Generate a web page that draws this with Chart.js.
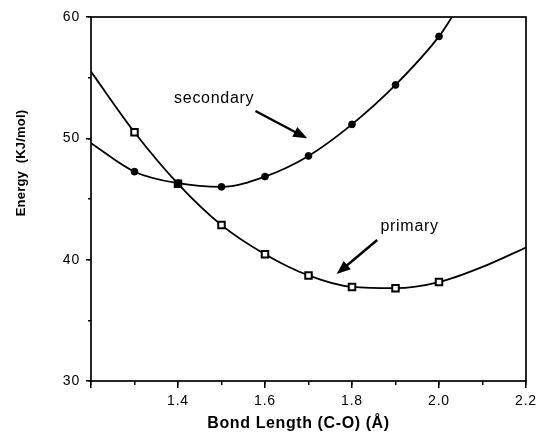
<!DOCTYPE html>
<html><head><meta charset="utf-8">
<script src="https://cdn.jsdelivr.net/npm/chart.js@4/dist/chart.umd.min.js"></script>
<style>html,body{margin:0;padding:0;background:#fff}</style>
</head><body>
<canvas id="c" width="538" height="433"></canvas>
<script>
// ---- data ----
const markerX = [1.3, 1.4, 1.5, 1.6, 1.7, 1.8, 1.9, 2.0];
const secondaryMarkers = [47.25, 46.3, 46.0, 46.85, 48.55, 51.15, 54.4, 58.4];
const primaryMarkers = [50.5, 46.25, 42.85, 40.45, 38.7, 37.75, 37.65, 38.15];

const secondaryCurveX = [1.2, 1.3, 1.4, 1.5, 1.6, 1.7, 1.8, 1.9, 2.0, 2.03];
const secondaryCurveY = [49.6, 47.25, 46.3, 46.0, 46.85, 48.55, 51.15, 54.4, 58.4, 60.0];
const primaryCurveX = [1.2, 1.3, 1.4, 1.5, 1.6, 1.7, 1.8, 1.9, 2.0, 2.1, 2.2];
const primaryCurveY = [55.5, 50.5, 46.25, 42.85, 40.45, 38.7, 37.75, 37.65, 38.15, 39.4, 41.0];

const xRange = [1.2, 2.2];
const yRange = [30, 60];
const xMajorStep = 0.2, xMinorStep = 0.1;
const yMajorStep = 10, yMinorStep = 5;
const hiddenXLabels = [1.2];

const xTitle = 'Bond Length (C-O) (Å)';
const yTitle = 'Energy  (KJ/mol)';
// annotations: [text, x, y(baseline)] and arrows [x1,y1,x2,y2] in data units
const labelSecondary = ['secondary', 1.391, 52.89];
const labelPrimary = ['primary', 1.8655, 42.36];
const arrowSecondary = [1.578, 52.25, 1.697, 50.0];
const arrowPrimary = [1.858, 41.62, 1.7645, 38.81];

// ---- helpers ----
const zip = (xs, ys) => xs.map((x, i) => ({x, y: ys[i]}));
const FAMILY = '"Liberation Sans", Arial, Helvetica, sans-serif';

const spacing = {
  id: 'spacing',
  beforeDraw(chart) { try { chart.ctx.letterSpacing = '0.8px'; } catch (e) {} }
};

const decor = {
  id: 'decor',
  afterDraw(chart) {
    const ctx = chart.ctx, a = chart.chartArea;
    const sx = chart.scales.x, sy = chart.scales.y;
    ctx.save();
    ctx.strokeStyle = '#000';
    ctx.lineWidth = 1.7;
    ctx.strokeRect(a.left, a.top, a.right - a.left, a.bottom - a.top);

    ctx.fillStyle = '#000';
    // x title
    ctx.font = 'bold 16px ' + FAMILY;
    try { ctx.letterSpacing = '0.6px'; } catch (e) {}
    ctx.textAlign = 'center';
    ctx.textBaseline = 'alphabetic';
    ctx.fillText(xTitle, 298.5, 428);
    // y title
    ctx.save();
    ctx.translate(21, 163);
    ctx.rotate(-Math.PI / 2);
    ctx.font = 'bold 13px ' + FAMILY;
    try { ctx.letterSpacing = '0.2px'; } catch (e) {}
    ctx.textBaseline = 'middle';
    ctx.fillText(yTitle, 0, 0);
    ctx.restore();

    // annotation labels
    ctx.font = '16px ' + FAMILY;
    try { ctx.letterSpacing = '0.7px'; } catch (e) {}
    ctx.textAlign = 'left';
    ctx.textBaseline = 'alphabetic';
    [labelSecondary, labelPrimary].forEach(([t, x, y]) => {
      ctx.fillText(t, sx.getPixelForValue(x), sy.getPixelForValue(y));
    });

    // arrows
    const arrow = ([x1, y1, x2, y2]) => {
      const p1 = [sx.getPixelForValue(x1), sy.getPixelForValue(y1)];
      const p2 = [sx.getPixelForValue(x2), sy.getPixelForValue(y2)];
      const ang = Math.atan2(p2[1] - p1[1], p2[0] - p1[0]);
      const L = 14, W = 5.5;
      const bx = p2[0] - L * Math.cos(ang), by = p2[1] - L * Math.sin(ang);
      ctx.lineWidth = 2.4;
      ctx.beginPath();
      ctx.moveTo(p1[0], p1[1]);
      ctx.lineTo(bx + 3 * Math.cos(ang), by + 3 * Math.sin(ang));
      ctx.stroke();
      ctx.beginPath();
      ctx.moveTo(p2[0], p2[1]);
      ctx.lineTo(bx + W * Math.sin(ang), by - W * Math.cos(ang));
      ctx.lineTo(bx - W * Math.sin(ang), by + W * Math.cos(ang));
      ctx.closePath();
      ctx.fill();
    };
    arrow(arrowSecondary);
    arrow(arrowPrimary);
    ctx.restore();
  }
};

const tickFont = {family: FAMILY, size: 14};
const fixX = h => s => { s.height = h; s.paddingLeft = 0; s.paddingRight = 0; };
const fixY = w => s => { s.width = w; s.paddingTop = 0; s.paddingBottom = 0; };

new Chart(document.getElementById('c'), {
  type: 'line',
  data: {
    datasets: [
      {label: 'secondary points', data: zip(markerX, secondaryMarkers), showLine: false,
       pointStyle: 'circle', pointRadius: 3.4, pointBackgroundColor: '#000', pointBorderColor: '#000',
       pointBorderWidth: 1, order: 0},
      {label: 'primary points', data: zip(markerX, primaryMarkers), showLine: false,
       pointStyle: 'rect', pointRadius: 4.6, pointBackgroundColor: '#fff', pointBorderColor: '#000',
       pointBorderWidth: 2, order: 0},
      {label: 'secondary', data: zip(secondaryCurveX, secondaryCurveY), borderColor: '#000',
       borderWidth: 1.8, pointRadius: 0, cubicInterpolationMode: 'monotone', fill: false, order: 1},
      {label: 'primary', data: zip(primaryCurveX, primaryCurveY), borderColor: '#000',
       borderWidth: 1.8, pointRadius: 0, cubicInterpolationMode: 'monotone', fill: false, order: 1}
    ]
  },
  options: {
    responsive: false,
    animation: false,
    devicePixelRatio: 1,
    layout: {padding: {left: 0, right: 12, top: 17, bottom: 0}},
    plugins: {legend: {display: false}, tooltip: {enabled: false}},
    scales: {
      x: {type: 'linear', position: 'bottom', weight: 1, min: xRange[0], max: xRange[1],
          ticks: {stepSize: xMajorStep, autoSkip: false, maxRotation: 0, color: '#000', font: tickFont, padding: 5,
                  callback: v => hiddenXLabels.some(h => Math.abs(h - v) < 1e-6) ? '' : Number(v).toFixed(1)},
          grid: {drawOnChartArea: false, tickLength: 7, color: '#000', lineWidth: 1.5},
          border: {display: false},
          afterFit: fixX(52)},
      xMinor: {type: 'linear', axis: 'x', position: 'bottom', weight: 0, min: xRange[0], max: xRange[1],
          ticks: {stepSize: xMinorStep, display: false},
          grid: {drawOnChartArea: false, tickLength: 4, color: '#000', lineWidth: 1.5},
          border: {display: false},
          afterFit: fixX(0)},
      y: {type: 'linear', position: 'left', weight: 1, min: yRange[0], max: yRange[1],
          ticks: {stepSize: yMajorStep, color: '#000', font: tickFont, padding: 6},
          grid: {drawOnChartArea: false, tickLength: 5, color: '#000', lineWidth: 1.5},
          border: {display: false},
          afterFit: fixY(91)},
      yMinor: {type: 'linear', axis: 'y', position: 'left', weight: 0, min: yRange[0], max: yRange[1],
          ticks: {stepSize: yMinorStep, display: false},
          grid: {drawOnChartArea: false, tickLength: 3, color: '#000', lineWidth: 1.5},
          border: {display: false},
          afterFit: fixY(0)}
    }
  },
  plugins: [spacing, decor]
});
</script>
</body></html>
